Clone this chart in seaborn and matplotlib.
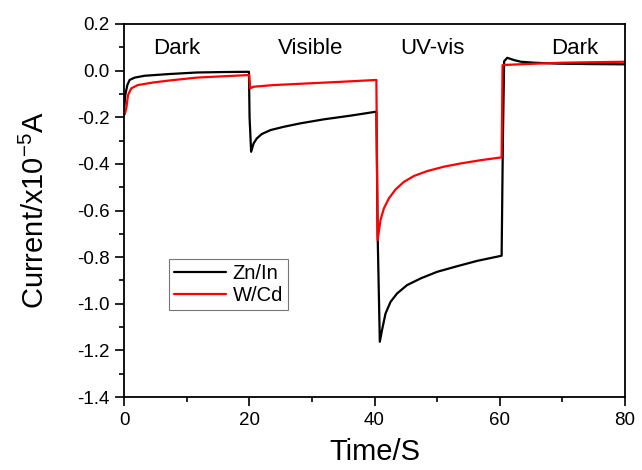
import matplotlib
matplotlib.use("Agg")
import matplotlib.pyplot as plt
from matplotlib.ticker import MultipleLocator
import pandas as pd
import seaborn as sns

# Photocurrent response, Zn/In sample (time in s, current in 1e-5 A)
zn_time = [0, 0.2, 0.53, 0.9, 1.7, 3.3, 7, 11.6, 16, 19.95,
           20.05, 20.3, 20.7, 21.2, 22.0, 23.4, 25.5, 28.2, 31.9, 36.2, 40.3,
           40.5, 40.85, 41.2, 41.76, 42.56, 43.6, 45.2, 47.4, 50.0, 53.2, 56.4, 60.3,
           60.5, 60.7, 61.2, 62.3, 63.4, 65.5, 69.2, 74.6, 80]
zn_current = [-0.176, -0.105, -0.062, -0.040, -0.030, -0.022, -0.015, -0.008, -0.006, -0.005,
              -0.20, -0.348, -0.312, -0.291, -0.272, -0.255, -0.241, -0.226, -0.209, -0.193, -0.176,
              -0.70, -1.163, -1.113, -1.042, -0.992, -0.956, -0.920, -0.891, -0.863, -0.839,
              -0.816, -0.794,
              -0.30, 0.040, 0.055, 0.045, 0.038, 0.034, 0.030, 0.028, 0.027]

# Photocurrent response, W/Cd sample
wcd_time = [0, 0.1, 0.37, 0.64, 1.17, 2.2, 4.4, 7.0, 11.6, 16, 20,
            20.15, 20.7, 23.9, 29.2, 34.6, 40.3,
            40.5, 40.96, 41.5, 42.3, 43.36, 44.7, 46.3, 48.4, 51.1, 53.8, 57, 60.3,
            60.45, 64, 70, 74.6, 80]
wcd_current = [-0.188, -0.188, -0.162, -0.105, -0.076, -0.062, -0.052, -0.043, -0.030,
               -0.024, -0.019,
               -0.076, -0.069, -0.062, -0.055, -0.048, -0.040,
               -0.727, -0.641, -0.591, -0.548, -0.510, -0.477, -0.452, -0.431, -0.412,
               -0.398, -0.384, -0.372,
               0.024, 0.028, 0.034, 0.036, 0.038]

series_names = ["Zn/In", "W/Cd"]
series_colors = ["#000000", "#ff0000"]

phase_labels = ["Dark", "Visible", "UV-vis", "Dark"]
phase_x = [8.4, 29.8, 49.3, 71.9]
phase_y = 0.097

sns.set_style("ticks")
plt.rcParams["font.family"] = ["Liberation Sans", "DejaVu Sans"]
plt.rcParams["mathtext.fontset"] = "custom"
plt.rcParams["mathtext.rm"] = "Liberation Sans"
plt.rcParams["mathtext.it"] = "Liberation Sans"
plt.rcParams["axes.unicode_minus"] = False
for key in ("text.color", "axes.labelcolor", "xtick.color", "ytick.color",
            "xtick.labelcolor", "ytick.labelcolor", "axes.edgecolor"):
    plt.rcParams[key] = "black"

df = pd.concat([
    pd.DataFrame({"Time": zn_time, "Current": zn_current, "Sample": series_names[0]}),
    pd.DataFrame({"Time": wcd_time, "Current": wcd_current, "Sample": series_names[1]}),
], ignore_index=True)

fig = plt.figure(figsize=(6.42, 4.70), dpi=100)
ax = fig.add_axes([124 / 642, 1 - 397 / 470, 501 / 642, 373 / 470])

sns.lineplot(data=df, x="Time", y="Current", hue="Sample", hue_order=series_names,
             palette=series_colors, sort=False, estimator=None, lw=1.6, ax=ax)

ax.set_xlim(0, 80)
ax.set_ylim(-1.4, 0.2)
ax.xaxis.set_major_locator(MultipleLocator(20))
ax.xaxis.set_minor_locator(MultipleLocator(10))
ax.yaxis.set_major_locator(MultipleLocator(0.2))
ax.yaxis.set_minor_locator(MultipleLocator(0.1))
ax.yaxis.set_major_formatter(plt.FuncFormatter(lambda v, p: f"{v:.1f}"))
ax.tick_params(which="major", direction="out", length=6.5, width=1.2,
               labelsize=13.5, pad=4, color="black")
ax.tick_params(which="minor", direction="out", length=3.5, width=1.2, color="black")
ax.tick_params(top=False, right=False, which="both")
for s in ax.spines.values():
    s.set_linewidth(1.3)
    s.set_color("black")

ax.set_xlabel("Time/S", fontsize=21, labelpad=7)
ax.set_ylabel(r"Current/x10$^{\mathregular{-5}}$A", fontsize=21, labelpad=19)

for lbl, xp in zip(phase_labels, phase_x):
    ax.text(xp, phase_y, lbl, fontsize=16, ha="center", va="center")

leg = ax.legend(loc="upper left", bbox_to_anchor=(0.09, 0.37), borderaxespad=0,
                fontsize=14.5, frameon=True, fancybox=False, handlelength=2.6,
                handletextpad=0.3, labelspacing=0.15, borderpad=0.25)
leg.get_frame().set_edgecolor("#555555")
leg.get_frame().set_linewidth(0.8)
for line in leg.get_lines():
    line.set_linewidth(1.6)

fig.savefig("out.png", dpi=100)
